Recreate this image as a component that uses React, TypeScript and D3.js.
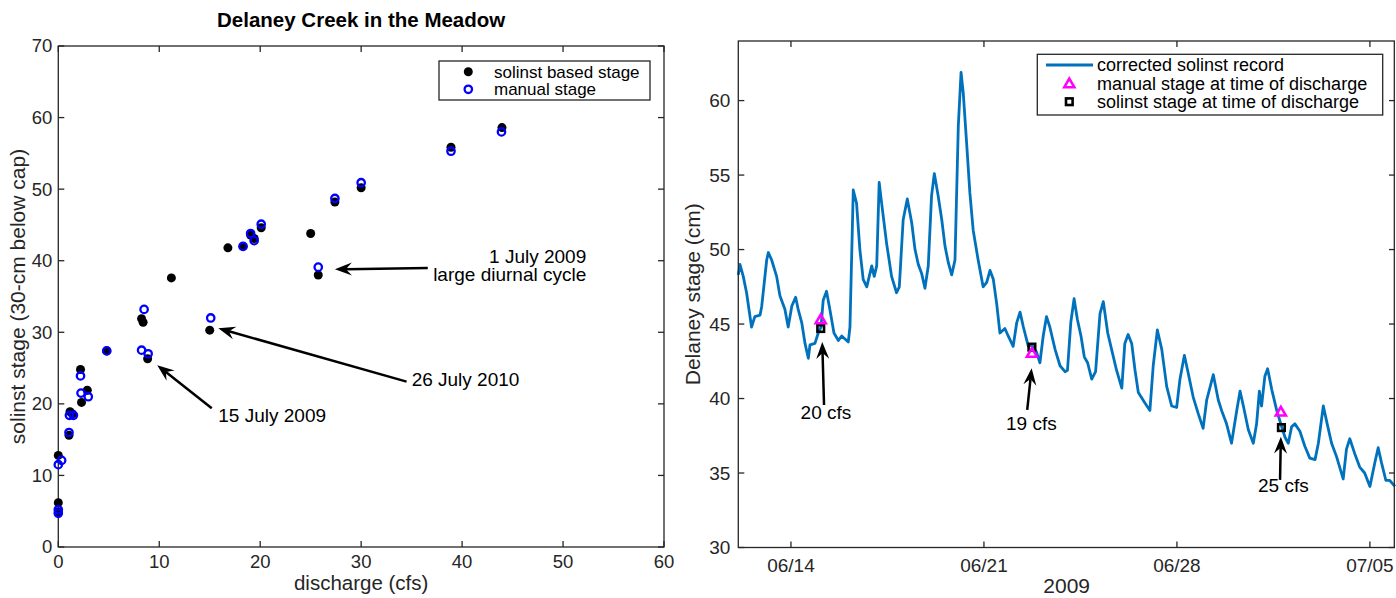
import { useRef, useEffect } from 'react';
import * as d3 from 'd3';

// ---- left panel: stage vs discharge ----
const solinstPoints: [number, number][] = [
  [0, 12.8], [0, 6.2], [0, 4.9], [1.06, 15.6], [1.16, 18.9], [1.4, 18.6], [2.2, 24.8], [2.3, 20.2],
  [2.87, 21.9], [4.8, 27.4], [8.25, 31.9], [8.4, 31.4], [8.85, 26.3], [11.2, 37.6], [15.0, 30.3],
  [16.8, 41.8], [18.3, 42.0], [19.05, 43.6], [19.4, 43.1], [20.1, 44.6], [25.0, 43.8], [25.75, 38.0],
  [27.4, 48.2], [30.0, 50.2], [38.9, 55.85], [43.95, 58.6]
];
const manualPoints: [number, number][] = [
  [0, 11.5], [0.33, 12.1], [0, 5.2], [0, 4.7], [1.06, 16.0], [1.1, 18.4], [1.5, 18.4], [2.2, 23.9],
  [2.25, 21.5], [2.97, 21.0], [4.8, 27.4], [8.25, 27.5], [8.5, 33.2], [8.9, 27.0], [15.1, 32.0],
  [18.3, 42.0], [19.05, 43.8], [19.4, 42.8], [20.1, 45.1], [25.75, 39.1], [27.4, 48.7], [30.0, 50.9],
  [38.9, 55.3], [43.9, 58.0]
];
const dischargeTicks = [0, 10, 20, 30, 40, 50, 60];
const leftStageTicks = [0, 10, 20, 30, 40, 50, 60, 70];
const leftNotes = [
  { lines: ['1 July 2009', 'large diurnal cycle'], tail: [36.6, 38.98], tip: [27.4, 38.8], text: [52.3, 39.7], anchor: 'end' },
  { lines: ['26 July 2010'], tail: [34.5, 23.1], tip: [15.85, 30.56], text: [35.0, 22.5], anchor: 'start' },
  { lines: ['15 July 2009'], tail: [15.2, 19.4], tip: [9.8, 25.4], text: [15.85, 17.4], anchor: 'start' }
];

// ---- right panel: stage record, [day of June 2009, cm] ----
const stageRecord: [number, number][] = [
  [12.09, 48.3], [12.15, 49.0], [12.27, 48.2], [12.39, 47.1], [12.57, 44.8], [12.69, 45.5], [12.88, 45.6],
  [12.94, 46.2], [13.12, 49.3], [13.18, 49.8], [13.30, 49.3], [13.48, 48.2], [13.60, 46.9], [13.78, 46.0],
  [13.90, 44.8], [14.03, 46.2], [14.17, 46.8], [14.26, 46.0], [14.39, 45.1], [14.51, 43.7], [14.63, 42.7],
  [14.69, 43.6], [14.87, 43.7], [14.99, 44.4], [15.09, 44.8], [15.17, 46.6], [15.29, 47.2], [15.41, 46.0],
  [15.56, 44.4], [15.72, 43.9], [15.84, 44.2], [16.08, 43.8], [16.14, 44.8], [16.26, 54.0], [16.38, 53.1],
  [16.50, 50.0], [16.62, 48.0], [16.75, 47.5], [16.93, 48.9], [17.02, 48.2], [17.11, 48.9], [17.20, 54.5],
  [17.29, 53.1], [17.47, 50.4], [17.65, 48.2], [17.83, 47.1], [17.93, 47.5], [18.07, 52.0], [18.22, 53.4],
  [18.38, 51.8], [18.50, 50.0], [18.62, 49.0], [18.74, 48.4], [18.86, 47.4], [18.98, 48.9], [19.10, 53.6],
  [19.20, 55.1], [19.34, 53.6], [19.47, 52.0], [19.59, 50.2], [19.71, 49.1], [19.83, 48.3], [19.95, 49.3],
  [20.07, 58.3], [20.17, 61.9], [20.25, 60.5], [20.37, 57.2], [20.49, 53.8], [20.61, 51.3], [20.79, 49.3],
  [20.97, 47.5], [21.10, 47.8], [21.22, 48.6], [21.34, 48.0], [21.46, 46.4], [21.58, 44.4], [21.76, 44.7],
  [21.88, 44.2], [22.06, 43.5], [22.19, 45.1], [22.31, 45.8], [22.43, 44.8], [22.61, 43.5], [22.73, 43.6],
  [22.91, 43.1], [23.03, 42.4], [23.15, 44.2], [23.27, 45.5], [23.39, 44.8], [23.58, 43.3], [23.76, 42.2],
  [23.94, 41.8], [24.03, 41.9], [24.15, 45.1], [24.27, 46.7], [24.39, 45.3], [24.52, 44.2], [24.64, 42.8],
  [24.76, 42.4], [24.91, 41.3], [25.05, 41.8], [25.21, 45.7], [25.33, 46.5], [25.49, 44.4], [25.63, 43.3],
  [25.81, 41.9], [26.00, 40.7], [26.11, 43.7], [26.23, 44.3], [26.36, 43.7], [26.48, 41.9], [26.60, 40.4],
  [26.84, 39.7], [27.02, 39.2], [27.14, 42.2], [27.29, 44.6], [27.45, 43.3], [27.63, 40.8], [27.81, 39.5],
  [27.99, 39.4], [28.11, 41.3], [28.27, 42.9], [28.41, 41.7], [28.59, 40.1], [28.77, 39.0], [28.95, 38.0],
  [29.08, 39.9], [29.32, 41.6], [29.50, 39.9], [29.62, 39.2], [29.80, 38.3], [29.98, 37.0], [30.17, 39.2],
  [30.29, 40.5], [30.41, 39.5], [30.59, 37.9], [30.77, 37.0], [30.89, 38.3], [30.99, 40.5], [31.07, 39.5],
  [31.19, 41.5], [31.29, 42.0], [31.44, 40.6], [31.62, 39.2], [31.80, 38.1], [31.92, 37.4], [32.04, 37.0],
  [32.16, 38.1], [32.28, 38.3], [32.46, 37.8], [32.64, 36.8], [32.82, 36.0], [33.01, 35.9], [33.13, 37.0],
  [33.31, 39.5], [33.45, 38.3], [33.61, 37.0], [33.79, 36.1], [34.03, 34.6], [34.15, 36.6], [34.27, 37.3],
  [34.45, 36.3], [34.63, 35.4], [34.81, 35.0], [35.00, 34.1], [35.18, 35.7], [35.30, 36.7], [35.42, 35.7],
  [35.58, 34.5], [35.72, 34.5], [35.91, 34.1]
];
const manualAtDischarge: [number, number][] = [[15.08, 45.3], [22.74, 43.05], [31.77, 39.1]];
const solinstAtDischarge: [number, number][] = [[15.08, 44.7], [22.74, 43.45], [31.79, 38.05]];
const rightNotes = [
  { label: '20 cfs', tail: [15.2, 39.57], tip: [15.135, 43.8], text: [15.27, 38.63] },
  { label: '19 cfs', tail: [22.57, 39.24], tip: [22.73, 42.04], text: [22.72, 37.9] },
  { label: '25 cfs', tail: [31.74, 34.54], tip: [31.77, 37.44], text: [31.86, 33.75] }
];
const dateTicks = [14, 21, 28, 35];
const rightStageTicks = [30, 35, 40, 45, 50, 55, 60];

const FONT = '"Liberation Sans", Arial, Helvetica, sans-serif';
const AXIS = '#262626';
const toDate = (d: number) => new Date(Date.UTC(2009, 5, 1) + (d - 1) * 864e5);

// MATLAB-like arrow with notched head
function drawArrow(g: any, x1: number, y1: number, x2: number, y2: number) {
  const dx = x2 - x1, dy = y2 - y1;
  const len = Math.hypot(dx, dy);
  const ux = dx / len, uy = dy / len;
  const px = -uy, py = ux;
  const L = 17, W = 6.5, N = 11;
  const nx = x2 - ux * N, ny = y2 - uy * N;
  g.append('line')
    .attr('x1', x1).attr('y1', y1).attr('x2', nx).attr('y2', ny)
    .attr('stroke', '#000').attr('stroke-width', 2.5);
  const pts = [
    [x2, y2],
    [x2 - ux * L + px * W, y2 - uy * L + py * W],
    [nx, ny],
    [x2 - ux * L - px * W, y2 - uy * L - py * W]
  ];
  g.append('path').attr('d', 'M' + pts.map(p => p.join(',')).join('L') + 'Z').attr('fill', '#000');
}

function boxAxes(g: any, x0: number, x1: number, y0: number, y1: number) {
  g.append('rect')
    .attr('x', x0).attr('y', y0).attr('width', x1 - x0).attr('height', y1 - y0)
    .attr('fill', 'none').attr('stroke', AXIS).attr('stroke-width', 1.3);
}

export default function App() {
  const svgRef = useRef<SVGSVGElement>(null);

  useEffect(() => {
    const svg = d3.select(svgRef.current).html('');
    const tickLen = 6;

    // ===== left panel =====
    const L = { left: 58.3, right: 664, top: 46, bottom: 547 };
    const xq = d3.scaleLinear().domain([0, 60]).range([L.left, L.right]);
    const yl = d3.scaleLinear().domain([0, 70]).range([L.bottom, L.top]);
    const lg = svg.append('g');

    lg.append('text')
      .attr('x', (L.left + L.right) / 2).attr('y', 27)
      .attr('text-anchor', 'middle').attr('font-size', 20.5).attr('font-weight', 'bold')
      .attr('fill', '#000').text('Delaney Creek in the Meadow');

    dischargeTicks.forEach(t => {
      const x = xq(t);
      lg.append('line').attr('x1', x).attr('x2', x).attr('y1', L.bottom).attr('y2', L.bottom - tickLen)
        .attr('stroke', AXIS).attr('stroke-width', 1.3);
      lg.append('line').attr('x1', x).attr('x2', x).attr('y1', L.top).attr('y2', L.top + tickLen)
        .attr('stroke', AXIS).attr('stroke-width', 1.3);
      lg.append('text').attr('x', x).attr('y', L.bottom + 21).attr('text-anchor', 'middle')
        .attr('font-size', 18.5).attr('fill', AXIS).text(t);
    });
    leftStageTicks.forEach(t => {
      const y = yl(t);
      lg.append('line').attr('x1', L.left).attr('x2', L.left + tickLen).attr('y1', y).attr('y2', y)
        .attr('stroke', AXIS).attr('stroke-width', 1.3);
      lg.append('line').attr('x1', L.right).attr('x2', L.right - tickLen).attr('y1', y).attr('y2', y)
        .attr('stroke', AXIS).attr('stroke-width', 1.3);
      lg.append('text').attr('x', L.left - 6).attr('y', y).attr('dy', '0.35em').attr('text-anchor', 'end')
        .attr('font-size', 18.5).attr('fill', AXIS).text(t);
    });
    boxAxes(lg, L.left, L.right, L.top, L.bottom);

    lg.append('text').attr('x', (L.left + L.right) / 2).attr('y', 590).attr('text-anchor', 'middle')
      .attr('font-size', 20.5).attr('fill', AXIS).text('discharge (cfs)');
    lg.append('text')
      .attr('transform', `translate(25, ${(L.top + L.bottom) / 2}) rotate(-90)`)
      .attr('text-anchor', 'middle').attr('font-size', 21).attr('fill', AXIS)
      .text('solinst stage (30-cm below cap)');

    lg.selectAll('.solinst').data(solinstPoints).enter().append('circle')
      .attr('cx', d => xq(d[0])).attr('cy', d => yl(d[1])).attr('r', 4.5).attr('fill', '#000');
    lg.selectAll('.manual').data(manualPoints).enter().append('circle')
      .attr('cx', d => xq(d[0])).attr('cy', d => yl(d[1])).attr('r', 3.7)
      .attr('fill', 'none').attr('stroke', '#0000ff').attr('stroke-width', 2.3);

    leftNotes.forEach(n => {
      drawArrow(lg, xq(n.tail[0]), yl(n.tail[1]), xq(n.tip[0]), yl(n.tip[1]));
      n.lines.forEach((s, i) => {
        lg.append('text').attr('x', xq(n.text[0])).attr('y', yl(n.text[1]) + i * 18.5)
          .attr('text-anchor', n.anchor).attr('font-size', 19).attr('fill', '#000').text(s);
      });
    });

    // left legend
    const leg1 = lg.append('g');
    leg1.append('rect').attr('x', 439).attr('y', 61).attr('width', 211).attr('height', 39)
      .attr('fill', '#fff').attr('stroke', AXIS).attr('stroke-width', 1.3);
    leg1.append('circle').attr('cx', 468.3).attr('cy', 71.7).attr('r', 4.5).attr('fill', '#000');
    leg1.append('circle').attr('cx', 468.3).attr('cy', 89.3).attr('r', 3.7)
      .attr('fill', 'none').attr('stroke', '#0000ff').attr('stroke-width', 2.3);
    leg1.append('text').attr('x', 494).attr('y', 71.7).attr('dy', '0.35em').attr('font-size', 17)
      .attr('fill', '#000').text('solinst based stage');
    leg1.append('text').attr('x', 494).attr('y', 89.3).attr('dy', '0.35em').attr('font-size', 17)
      .attr('fill', '#000').text('manual stage');

    // ===== right panel =====
    const R = { left: 738.3, right: 1395, top: 41, bottom: 547.5 };
    const xt = d3.scaleUtc().domain([toDate(stageRecord[0][0]), toDate(stageRecord[stageRecord.length - 1][0])])
      .range([R.left, R.right]);
    const yr = d3.scaleLinear().domain([30, 64]).range([R.bottom, R.top]);
    const rg = svg.append('g');
    const fmt = d3.utcFormat('%m/%d');

    dateTicks.forEach(t => {
      const x = xt(toDate(t));
      rg.append('line').attr('x1', x).attr('x2', x).attr('y1', R.bottom).attr('y2', R.bottom - tickLen)
        .attr('stroke', AXIS).attr('stroke-width', 1.3);
      rg.append('line').attr('x1', x).attr('x2', x).attr('y1', R.top).attr('y2', R.top + tickLen)
        .attr('stroke', AXIS).attr('stroke-width', 1.3);
      rg.append('text').attr('x', x).attr('y', R.bottom + 24).attr('text-anchor', 'middle')
        .attr('font-size', 19).attr('fill', AXIS).text(fmt(toDate(t)));
    });
    rightStageTicks.forEach(t => {
      const y = yr(t);
      rg.append('line').attr('x1', R.left).attr('x2', R.left + tickLen).attr('y1', y).attr('y2', y)
        .attr('stroke', AXIS).attr('stroke-width', 1.3);
      rg.append('line').attr('x1', R.right).attr('x2', R.right - tickLen).attr('y1', y).attr('y2', y)
        .attr('stroke', AXIS).attr('stroke-width', 1.3);
      rg.append('text').attr('x', R.left - 8).attr('y', y).attr('dy', '0.35em').attr('text-anchor', 'end')
        .attr('font-size', 19).attr('fill', AXIS).text(t);
    });

    const line = d3.line<[number, number]>()
      .x(d => xt(toDate(d[0])))
      .y(d => yr(d[1]));
    rg.append('path').datum(stageRecord).attr('d', line)
      .attr('fill', 'none').attr('stroke', '#0072bd').attr('stroke-width', 2.8).attr('stroke-linejoin', 'round');

    boxAxes(rg, R.left, R.right - 0.7, R.top, R.bottom);

    rg.append('text').attr('x', (R.left + R.right) / 2).attr('y', 593).attr('text-anchor', 'middle')
      .attr('font-size', 21).attr('fill', AXIS).text('2009');
    rg.append('text')
      .attr('transform', `translate(700, ${(R.top + R.bottom) / 2}) rotate(-90)`)
      .attr('text-anchor', 'middle').attr('font-size', 21).attr('fill', AXIS)
      .text('Delaney stage (cm)');

    const tri = (cx: number, cy: number) =>
      `M${cx},${cy - 5}L${cx + 5},${cy + 3.6}L${cx - 5},${cy + 3.6}Z`;
    solinstAtDischarge.forEach(d => {
      rg.append('rect').attr('x', xt(toDate(d[0])) - 3.3).attr('y', yr(d[1]) - 3.3)
        .attr('width', 6.6).attr('height', 6.6)
        .attr('fill', 'none').attr('stroke', '#000').attr('stroke-width', 2.6);
    });
    manualAtDischarge.forEach(d => {
      rg.append('path').attr('d', tri(xt(toDate(d[0])), yr(d[1])))
        .attr('fill', 'none').attr('stroke', '#ff00ff').attr('stroke-width', 2.6);
    });

    rightNotes.forEach(n => {
      drawArrow(rg, xt(toDate(n.tail[0])), yr(n.tail[1]), xt(toDate(n.tip[0])), yr(n.tip[1]));
      rg.append('text').attr('x', xt(toDate(n.text[0]))).attr('y', yr(n.text[1]))
        .attr('text-anchor', 'middle').attr('font-size', 19).attr('fill', '#000').text(n.label);
    });

    // right legend
    const leg2 = rg.append('g');
    leg2.append('rect').attr('x', 1037.3).attr('y', 54.3).attr('width', 345.4).attr('height', 60.7)
      .attr('fill', '#fff').attr('stroke', AXIS).attr('stroke-width', 1.3);
    leg2.append('line').attr('x1', 1046).attr('x2', 1093).attr('y1', 65).attr('y2', 65)
      .attr('stroke', '#0072bd').attr('stroke-width', 2.8);
    leg2.append('path').attr('d', tri(1069.3, 83.6))
      .attr('fill', 'none').attr('stroke', '#ff00ff').attr('stroke-width', 2.6);
    leg2.append('rect').attr('x', 1069.3 - 3.3).attr('y', 101.7 - 3.3).attr('width', 6.6).attr('height', 6.6)
      .attr('fill', 'none').attr('stroke', '#000').attr('stroke-width', 2.6);
    [['corrected solinst record', 65], ['manual stage at time of discharge', 83.3], ['solinst stage at time of discharge', 101.7]]
      .forEach(([s, y]) => {
        leg2.append('text').attr('x', 1097).attr('y', y as number).attr('dy', '0.35em').attr('font-size', 18)
          .attr('fill', '#000').text(s as string);
      });
  }, []);

  return (
    <div style={{ position: 'absolute', left: 0, top: 0, background: '#fff' }}>
      <svg ref={svgRef} width={1396} height={598} style={{ display: 'block', fontFamily: FONT }} />
    </div>
  );
}
